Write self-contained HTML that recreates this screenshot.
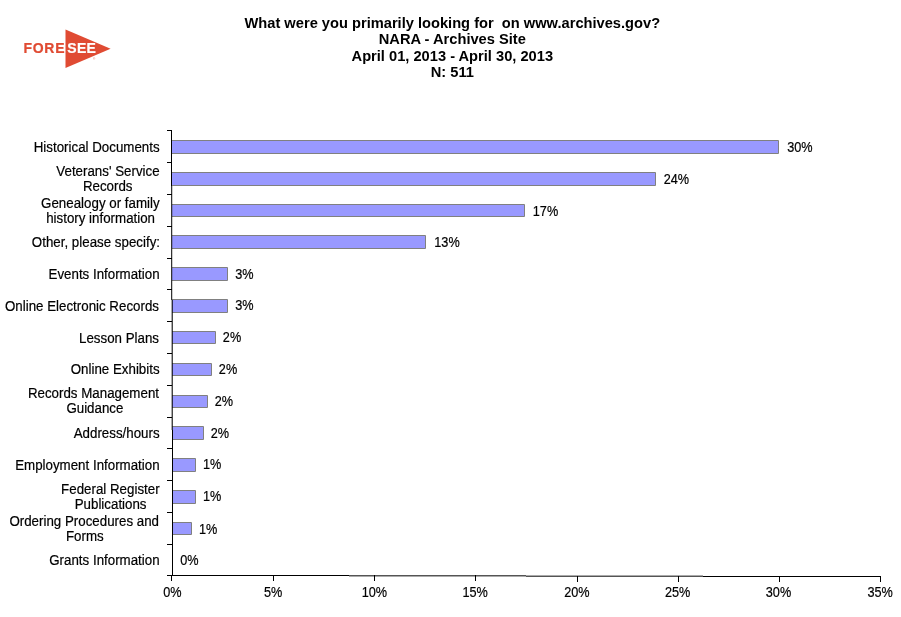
<!DOCTYPE html>
<html><head><meta charset="utf-8"><title>What were you primarily looking for on www.archives.gov?</title>
<style>
html,body{margin:0;padding:0;background:#fff;}
body{width:901px;height:617px;overflow:hidden;}
svg{display:block;}
text{font-family:"Liberation Sans",Arial,sans-serif;fill:#000;}
.t{font-weight:bold;font-size:14.67px;text-anchor:middle;}
.c{font-size:13.33px;}
.n{font-size:12.7px;}
.c,.n{stroke:#000;stroke-width:0.18px;}
</style></head><body>
<svg width="901" height="617" viewBox="0 0 901 617">
<rect width="901" height="617" fill="#fff"/>

<text class="t" x="452.3" y="27.6" xml:space="preserve">What were you primarily looking for  on www.archives.gov?</text>
<text class="t" x="452.3" y="44.2" xml:space="preserve">NARA - Archives Site</text>
<text class="t" x="452.3" y="60.6" xml:space="preserve">April 01, 2013 - April 30, 2013</text>
<text class="t" x="452.3" y="77.2" xml:space="preserve">N: 511</text>
<polygon points="65.5,29.5 65.5,68.1 110.6,48.7" fill="#e04b33"/>
<text x="23.5" y="53.3" font-weight="bold" font-size="14" style="fill:#e04b33;stroke:#e04b33;stroke-width:0.2" textLength="41" lengthAdjust="spacing">FORE</text>
<text x="67.2" y="53.3" font-weight="bold" font-size="14" style="fill:#fff;stroke:#fff;stroke-width:0.2" textLength="28.7" lengthAdjust="spacing">SEE</text>
<text x="93.2" y="60.2" font-size="2.6" style="fill:#e04b33">®</text>
<path d="M172 140.5H778.5V153.5H172" fill="#9999ff" stroke="#808080" stroke-width="1"/>
<path d="M172 172.5H655.5V185.5H172" fill="#9999ff" stroke="#808080" stroke-width="1"/>
<path d="M172 204.5H524.5V216.5H172" fill="#9999ff" stroke="#808080" stroke-width="1"/>
<path d="M172 235.5H425.5V248.5H172" fill="#9999ff" stroke="#808080" stroke-width="1"/>
<path d="M172 267.5H227.5V280.5H172" fill="#9999ff" stroke="#808080" stroke-width="1"/>
<path d="M172 299.5H227.5V312.5H172" fill="#9999ff" stroke="#808080" stroke-width="1"/>
<path d="M172 331.5H215.5V343.5H172" fill="#9999ff" stroke="#808080" stroke-width="1"/>
<path d="M172 363.5H211.5V375.5H172" fill="#9999ff" stroke="#808080" stroke-width="1"/>
<path d="M172 395.5H207.5V407.5H172" fill="#9999ff" stroke="#808080" stroke-width="1"/>
<path d="M172 426.5H203.5V439.5H172" fill="#9999ff" stroke="#808080" stroke-width="1"/>
<path d="M173 458.5H195.5V471.5H173" fill="#9999ff" stroke="#808080" stroke-width="1"/>
<path d="M173 490.5H195.5V503.5H173" fill="#9999ff" stroke="#808080" stroke-width="1"/>
<path d="M173 522.5H191.5V534.5H173" fill="#9999ff" stroke="#808080" stroke-width="1"/>
<rect x="167" y="130" width="5" height="1" fill="#000"/>
<rect x="167" y="162" width="5" height="1" fill="#000"/>
<rect x="167" y="194" width="5" height="1" fill="#000"/>
<rect x="167" y="226" width="5" height="1" fill="#000"/>
<rect x="167" y="258" width="5" height="1" fill="#000"/>
<rect x="167" y="289" width="5" height="1" fill="#000"/>
<rect x="167" y="321" width="5" height="1" fill="#000"/>
<rect x="167" y="353" width="5" height="1" fill="#000"/>
<rect x="167" y="385" width="5" height="1" fill="#000"/>
<rect x="167" y="417" width="5" height="1" fill="#000"/>
<rect x="167" y="448" width="5" height="1" fill="#000"/>
<rect x="167" y="480" width="5" height="1" fill="#000"/>
<rect x="167" y="512" width="5" height="1" fill="#000"/>
<rect x="167" y="544" width="5" height="1" fill="#000"/>
<rect x="167" y="575" width="5" height="1" fill="#000"/>
<rect x="171" y="130" width="1" height="56" fill="#000"/>
<rect x="171" y="186" width="1" height="114" fill="#000" fill-opacity="0.8"/>
<rect x="172" y="186" width="1" height="114" fill="#000" fill-opacity="0.2"/>
<rect x="171" y="300" width="1" height="130" fill="#000" fill-opacity="0.33"/>
<rect x="172" y="300" width="1" height="130" fill="#000" fill-opacity="0.73"/>
<rect x="172" y="430" width="1" height="146" fill="#000"/>
<rect x="171" y="575" width="178" height="1" fill="#000"/>
<rect x="349" y="575" width="177" height="1" fill="#555"/>
<rect x="349" y="576" width="177" height="1" fill="#aaa"/>
<rect x="526" y="575" width="177" height="1" fill="#aaa"/>
<rect x="526" y="576" width="177" height="1" fill="#555"/>
<rect x="703" y="576" width="178" height="1" fill="#000"/>
<rect x="171" y="575" width="1" height="6" fill="#000"/>
<text class="n" transform="translate(172.3,597) scale(1,1.14)" text-anchor="middle" xml:space="preserve">0%</text>
<rect x="273" y="575" width="1" height="6" fill="#000"/>
<text class="n" transform="translate(273.2,597) scale(1,1.14)" text-anchor="middle" xml:space="preserve">5%</text>
<rect x="374" y="575" width="1" height="6" fill="#000"/>
<text class="n" transform="translate(374.4,597) scale(1,1.14)" text-anchor="middle" xml:space="preserve">10%</text>
<rect x="475" y="575" width="1" height="6" fill="#000"/>
<text class="n" transform="translate(475.1,597) scale(1,1.14)" text-anchor="middle" xml:space="preserve">15%</text>
<rect x="577" y="576" width="1" height="6" fill="#000"/>
<text class="n" transform="translate(576.9,597) scale(1,1.14)" text-anchor="middle" xml:space="preserve">20%</text>
<rect x="678" y="576" width="1" height="6" fill="#000"/>
<text class="n" transform="translate(677.7,597) scale(1,1.14)" text-anchor="middle" xml:space="preserve">25%</text>
<rect x="779" y="576" width="1" height="6" fill="#000"/>
<text class="n" transform="translate(778.5,597) scale(1,1.14)" text-anchor="middle" xml:space="preserve">30%</text>
<rect x="880" y="576" width="1" height="6" fill="#000"/>
<text class="n" transform="translate(880.1,597) scale(1,1.14)" text-anchor="middle" xml:space="preserve">35%</text>
<text class="c" transform="translate(159.6,152) scale(1,1.09)" text-anchor="end" xml:space="preserve">Historical Documents</text>
<text class="c" transform="translate(159.6,176.3) scale(1,1.09)" text-anchor="end" xml:space="preserve">Veterans' Service</text>
<text class="c" transform="translate(107.7,191) scale(1,1.09)" text-anchor="middle" xml:space="preserve">Records</text>
<text class="c" transform="translate(159.6,208.3) scale(1,1.09)" text-anchor="end" xml:space="preserve">Genealogy or family</text>
<text class="c" transform="translate(100.6,223.3) scale(1,1.09)" text-anchor="middle" xml:space="preserve">history information</text>
<text class="c" transform="translate(160.0,247.2) scale(1,1.09)" text-anchor="end" xml:space="preserve">Other, please specify:</text>
<text class="c" transform="translate(159.6,279) scale(1,1.09)" text-anchor="end" xml:space="preserve">Events Information</text>
<text class="c" transform="translate(159.0,310.6) scale(1,1.09)" text-anchor="end" xml:space="preserve">Online Electronic Records</text>
<text class="c" transform="translate(159.0,342.8) scale(1,1.09)" text-anchor="end" xml:space="preserve">Lesson Plans</text>
<text class="c" transform="translate(159.6,374) scale(1,1.09)" text-anchor="end" xml:space="preserve">Online Exhibits</text>
<text class="c" transform="translate(159.0,398) scale(1,1.09)" text-anchor="end" xml:space="preserve">Records Management</text>
<text class="c" transform="translate(94.9,413) scale(1,1.09)" text-anchor="middle" xml:space="preserve">Guidance</text>
<text class="c" transform="translate(159.6,438) scale(1,1.09)" text-anchor="end" xml:space="preserve">Address/hours</text>
<text class="c" transform="translate(159.6,470) scale(1,1.09)" text-anchor="end" xml:space="preserve">Employment Information</text>
<text class="c" transform="translate(159.6,494) scale(1,1.09)" text-anchor="end" xml:space="preserve">Federal Register</text>
<text class="c" transform="translate(110.6,508.6) scale(1,1.09)" text-anchor="middle" xml:space="preserve">Publications</text>
<text class="c" transform="translate(159.0,526) scale(1,1.09)" text-anchor="end" xml:space="preserve">Ordering Procedures and</text>
<text class="c" transform="translate(84.8,541) scale(1,1.09)" text-anchor="middle" xml:space="preserve">Forms</text>
<text class="c" transform="translate(159.6,565) scale(1,1.09)" text-anchor="end" xml:space="preserve">Grants Information</text>
<text class="n" transform="translate(812.6,152) scale(1,1.14)" text-anchor="end" xml:space="preserve">30%</text>
<text class="n" transform="translate(689.1,184) scale(1,1.14)" text-anchor="end" xml:space="preserve">24%</text>
<text class="n" transform="translate(558.2,215.5) scale(1,1.14)" text-anchor="end" xml:space="preserve">17%</text>
<text class="n" transform="translate(459.7,247.2) scale(1,1.14)" text-anchor="end" xml:space="preserve">13%</text>
<text class="n" transform="translate(253.6,278.6) scale(1,1.14)" text-anchor="end" xml:space="preserve">3%</text>
<text class="n" transform="translate(253.6,310.4) scale(1,1.14)" text-anchor="end" xml:space="preserve">3%</text>
<text class="n" transform="translate(241.2,342.4) scale(1,1.14)" text-anchor="end" xml:space="preserve">2%</text>
<text class="n" transform="translate(237.2,374.3) scale(1,1.14)" text-anchor="end" xml:space="preserve">2%</text>
<text class="n" transform="translate(233.1,406.4) scale(1,1.14)" text-anchor="end" xml:space="preserve">2%</text>
<text class="n" transform="translate(229.1,437.6) scale(1,1.14)" text-anchor="end" xml:space="preserve">2%</text>
<text class="n" transform="translate(221.3,469.4) scale(1,1.14)" text-anchor="end" xml:space="preserve">1%</text>
<text class="n" transform="translate(221.3,501.4) scale(1,1.14)" text-anchor="end" xml:space="preserve">1%</text>
<text class="n" transform="translate(217.3,533.6) scale(1,1.14)" text-anchor="end" xml:space="preserve">1%</text>
<text class="n" transform="translate(198.6,564.8) scale(1,1.14)" text-anchor="end" xml:space="preserve">0%</text>
</svg>
</body></html>
